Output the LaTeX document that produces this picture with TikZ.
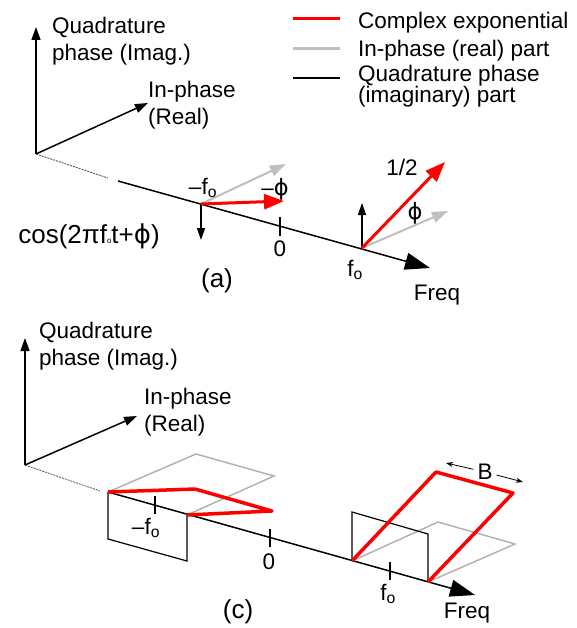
\documentclass[tikz,border=0pt]{standalone}
\usepackage{fontspec}
\setmainfont{Liberation Sans}
\newfontfamily\phifont{DejaVu Sans}
\usetikzlibrary{arrows.meta, positioning}

\newcommand{\fsub}{f\textsubscript{o}}
\newcommand{\phisym}{{\phifont ϕ}}

\begin{document}
\begin{tikzpicture}[
    x=1pt, y=-1pt,
    font=\fontsize{22.5}{27}\selectfont,
    txt/.style={inner sep=0pt, align=left},
    bigtxt/.style={inner sep=0pt, font=\fontsize{26}{30}\selectfont},
    axisline/.style={line width=1.5pt, -{Triangle[length=13pt, width=9pt]}},
    freqline/.style={line width=1.5pt, -{Triangle[length=25pt, width=17pt]}},
    hiddenline/.style={dash pattern=on 2pt off 1pt, line width=0.8pt, black!70},
    tickmark/.style={line width=2pt},
    cplxvec/.style={red, line width=3pt, -{Triangle[length=20pt, width=15pt]}},
    realvec/.style={black!25, line width=2pt, -{Triangle[length=16pt, width=11pt]}},
    imagvec/.style={line width=1.2pt, -{Triangle[length=12pt, width=8pt]}},
    cplxband/.style={red, line width=3.5pt, line join=round},
    realband/.style={black!30, line width=1.5pt},
    imagband/.style={line width=1.2pt},
    bmark/.style={line width=0.8pt, -{Stealth[length=7pt, width=5pt]}}
]
    \useasboundingbox (0,0) rectangle (576,628);

    % --- Legend ---
    \coordinate (lgcplxl) at (293,19);
    \coordinate (lgcplxr) at (340,19);
    \coordinate (lgreall) at (293,49);
    \coordinate (lgrealr) at (340,49);
    \coordinate (lgimagl) at (293,78);
    \coordinate (lgimagr) at (340,78);
    \draw[red, line width=3pt] (lgcplxl) -- (lgcplxr);
    \draw[black!25, line width=3pt] (lgreall) -- (lgrealr);
    \draw[line width=1.5pt] (lgimagl) -- (lgimagr);
    \node[txt, anchor=base west] (lgcplx) at (358,29) {Complex exponential};
    \node[txt, anchor=base west] (lgreal) at (358,57) {In-phase (real) part};
    % two lines: base anchor sits on the last line
    \node[txt, anchor=base west, font=\fontsize{22.5}{16.5}\selectfont] (lgimag) at (358,103) {Quadrature phase\\(imaginary) part};

    % --- (a) Axes ---
    \coordinate (oa) at (36,154);
    \coordinate (qa) at (36,27);
    \coordinate (ia) at (148,103);
    \coordinate (ha) at (108,178);
    \coordinate (sa) at (118,181);
    \coordinate (fa) at (430,268);
    \draw[axisline] (oa) -- (qa);
    \draw[axisline] (oa) -- (ia);
    \draw[hiddenline] (oa) -- (ha);
    \draw[freqline] (sa) -- (fa);
    \node[txt, anchor=base west] (quada) at (52,61) {Quadrature\\phase (Imag.)};
    \node[txt, anchor=base west] (inpha) at (148,125) {In-phase\\(Real)};

    % zero tick
    \coordinate (za1) at (280,217);
    \coordinate (za2) at (280,236);
    \draw[tickmark] (za1) -- (za2);
    \node[txt] (zeroa) at (280,249) {0};

    % --- (a) Vectors at -fo ---
    \coordinate (na) at (201,204);
    \coordinate (naimag) at (201,240);
    \coordinate (nareal) at (286,164);
    \coordinate (nacplx) at (284,201);
    \draw[realvec] (na) -- (nareal);
    \draw[imagvec] (na) -- (naimag);
    \draw[cplxvec] (na) -- (nacplx);
    \node[txt] (negfa) at (203,188) {--\fsub};
    \node[txt] (negphia) at (275,189) {--\phisym};

    % --- (a) Vectors at fo ---
    \coordinate (pa) at (362,248);
    \coordinate (paimag) at (362,203);
    \coordinate (pareal) at (448,211);
    \coordinate (pacplx) at (445,162);
    \draw[realvec] (pa) -- (pareal);
    \draw[imagvec] (pa) -- (paimag);
    \draw[cplxvec] (pa) -- (pacplx);
    \node[txt] (halfa) at (402,167) {1/2};
    \node[txt] (phia) at (415,213) {\phisym};
    \node[txt] (posfa) at (355,270) {\fsub};

    % --- (a) Labels ---
    \node[bigtxt] (cosa) at (89,236) {cos(2πf{\fontsize{8}{8}\selectfont o}t+\phisym)};
    \node[txt] (freqa) at (437,295) {Freq};
    \node[bigtxt] (capa) at (217,281) {(a)};

    % --- (c) Axes ---
    \coordinate (oc) at (25,465);
    \coordinate (qc) at (25,338);
    \coordinate (ic) at (137,416);
    \coordinate (hc) at (100,491);
    \coordinate (sc) at (108,492);
    \coordinate (fc) at (475,595);
    \draw[axisline] (oc) -- (qc);
    \draw[axisline] (oc) -- (ic);
    \draw[hiddenline] (oc) -- (hc);
    \draw[freqline] (sc) -- (fc);
    \node[txt, anchor=base west] (quadc) at (39,365) {Quadrature\\phase (Imag.)};
    \node[txt, anchor=base west] (inphc) at (144,431) {In-phase\\(Real)};

    % ticks
    \coordinate (nc1) at (155,496);
    \coordinate (nc2) at (155,514);
    \coordinate (zc1) at (270,529);
    \coordinate (zc2) at (270,547);
    \coordinate (pc1) at (390,562);
    \coordinate (pc2) at (390,580);
    \draw[tickmark] (nc1) -- (nc2);
    \draw[tickmark] (zc1) -- (zc2);
    \draw[tickmark] (pc1) -- (pc2);
    \node[txt] (negfc) at (146,528) {--\fsub};
    \node[txt] (zeroc) at (269,562) {0};
    \node[txt] (posfc) at (388,594) {\fsub};

    % --- (c) Band at -fo ---
    \coordinate (a1) at (108,492);
    \coordinate (a2) at (187,515);
    \coordinate (ag1) at (196,454);
    \coordinate (ag2) at (274,476);
    \coordinate (ak1) at (108,539);
    \coordinate (ak2) at (187,561);
    \coordinate (ar1) at (195,489);
    \coordinate (ar2) at (272,511);
    \draw[realband] (a1) -- (ag1) -- (ag2) -- (a2);
    \draw[imagband] (a1) -- (ak1) -- (ak2) -- (a2);
    \draw[cplxband] (a1) -- (ar1) -- (ar2) -- (a2);

    % --- (c) Band at fo ---
    \coordinate (b1) at (352,561);
    \coordinate (b2) at (428,582);
    \coordinate (bg1) at (438,522);
    \coordinate (bg2) at (515,544);
    \coordinate (bk1) at (352,512);
    \coordinate (bk2) at (428,534);
    \coordinate (br1) at (436,472);
    \coordinate (br2) at (513,493);
    \draw[realband] (b1) -- (bg1) -- (bg2) -- (b2);
    \draw[imagband] (b1) -- (bk1) -- (bk2) -- (b2);
    \draw[cplxband] (b1) -- (br1) -- (br2) -- (b2);

    % bandwidth
    \node[txt, inner sep=4pt] (bwid) at (485,472) {B};
    \coordinate (bleft) at (446,463);
    \coordinate (bright) at (523,482);
    \draw[bmark] (bwid) -- (bleft);
    \draw[bmark] (bwid) -- (bright);

    % --- (c) Labels ---
    \node[txt] (freqc) at (467,613) {Freq};
    \node[bigtxt] (capc) at (238,612) {(c)};

\end{tikzpicture}
\end{document}
